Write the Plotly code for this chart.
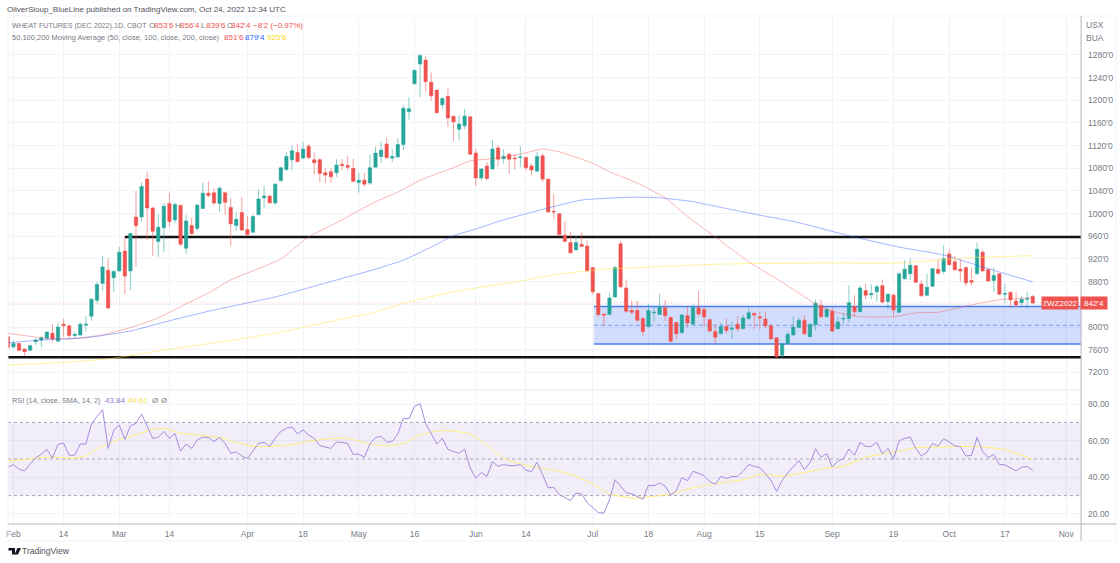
import plotly.graph_objects as go

# trading day index, 0 = 1 Feb 2022, 183 = 24 Oct 2022
days = list(range(-1, 184))

opens = [783, 765, 771, 761, 759, 774, 777, 780, 789, 775, 805, 802, 785, 786, 803, 819, 847, 877, 900, 887,
         899, 934, 899, 994, 994, 1061, 1010, 951, 975, 1018, 989, 1015, 939, 979, 974, 1009, 1036, 1037, 1018, 1037,
         1011, 979, 1002, 972, 967, 998, 1028, 1031, 1019, 1058, 1078, 1095, 1108, 1098, 1119, 1095, 1095, 1072, 1074, 1072,
         1087, 1085, 1080, 1055, 1059, 1054, 1082, 1101, 1123, 1098, 1100, 1122, 1180, 1229, 1264, 1271, 1232, 1218, 1192, 1207,
         1172, 1149, 1155, 1171, 1107, 1063, 1084, 1079, 1116, 1097, 1105, 1098, 1099, 1099, 1084, 1075, 1102, 1061, 1004, 1000,
         962, 949, 936, 946, 943, 905, 859, 823, 822, 853, 947, 869, 829, 829, 815, 801, 825, 822, 834, 817,
         808, 790, 820, 805, 834, 831, 813, 792, 788, 801, 796, 805, 797, 815, 824, 818, 814, 802, 781, 750,
         771, 786, 799, 812, 783, 804, 838, 818, 828, 797, 814, 815, 836, 827, 864, 857, 862, 873, 845, 856,
         826, 885, 894, 908, 876, 856, 872, 902, 898, 929, 915, 902, 905, 882, 894, 932, 901, 882, 894, 858,
         861, 846, 843, 849, 853.75]
highs = [789, 777, 772, 762, 769, 780, 784, 792, 805, 808, 815, 804, 792, 808, 819, 851, 880, 926, 922, 901,
         941, 959, 966, 1040, 1055, 1074, 1012, 999, 1018, 1036, 1020, 1015, 998, 993, 1017, 1055, 1057, 1045, 1048, 1039,
         1027, 1003, 1029, 996, 998, 1042, 1050, 1033, 1054, 1083, 1109, 1120, 1123, 1126, 1123, 1108, 1098, 1080, 1080, 1096,
         1096, 1102, 1097, 1072, 1072, 1104, 1118, 1128, 1134, 1114, 1133, 1191, 1205, 1254, 1281, 1278, 1249, 1218, 1206, 1221,
         1172, 1174, 1185, 1172, 1115, 1080, 1091, 1130, 1121, 1114, 1108, 1105, 1119, 1101, 1088, 1109, 1106, 1061, 1035, 1000,
         987, 968, 961, 967, 953, 905, 859, 823, 861, 908, 952, 884, 847, 846, 818, 841, 836, 858, 848, 818,
         809, 823, 837, 840, 864, 835, 814, 804, 807, 815, 809, 819, 821, 834, 825, 827, 827, 805, 782, 772,
         792, 819, 817, 821, 805, 848, 848, 836, 835, 818, 824, 873, 856, 873, 877, 875, 875, 884, 859, 859,
         896, 918, 921, 910, 883, 894, 904, 919, 945, 938, 925, 919, 906, 904, 949, 936, 904, 905, 895, 876,
         864, 862, 855, 862, 856.5]
lows = [764, 762, 757, 749, 758, 768, 764, 778, 773, 774, 783, 780, 779, 784, 792, 811, 841, 865, 832, 862,
        898, 858, 865, 906, 986, 953, 926, 923, 932, 977, 983, 943, 929, 962, 970, 1008, 1029, 1015, 1003, 998,
        943, 970, 970, 961, 967, 998, 1009, 1019, 1015, 1057, 1076, 1077, 1090, 1096, 1096, 1069, 1055, 1054, 1054, 1065,
        1077, 1077, 1055, 1037, 1048, 1051, 1082, 1090, 1096, 1091, 1099, 1112, 1166, 1228, 1205, 1215, 1199, 1177, 1185, 1153,
        1128, 1130, 1149, 1104, 1049, 1059, 1059, 1078, 1083, 1088, 1070, 1078, 1082, 1077, 1068, 1074, 1056, 1002, 990, 962,
        951, 929, 936, 942, 896, 857, 818, 801, 821, 852, 869, 825, 822, 809, 784, 799, 808, 821, 811, 772,
        778, 789, 799, 805, 818, 801, 792, 771, 788, 788, 779, 792, 797, 812, 797, 795, 798, 778, 744, 744,
        770, 785, 799, 786, 782, 794, 817, 817, 791, 796, 804, 808, 818, 826, 849, 849, 845, 842, 831, 818,
        825, 884, 883, 877, 854, 855, 871, 891, 893, 909, 899, 880, 872, 873, 892, 897, 880, 862, 856, 842,
        834, 835, 837, 833, 839.75]
closes = [764, 771, 759, 756.5, 767, 777, 781, 791, 779, 800, 802, 785, 787, 805, 805, 849, 875, 906, 833.5, 898,
          932, 890, 965, 979, 1048, 1010, 969, 976, 1013, 986, 1016, 946, 987, 965, 1015, 1036, 1032, 1019, 1045, 1020,
          982, 990, 971, 963, 995, 1026, 1031, 1019, 1052, 1081, 1101, 1111, 1092, 1114, 1099, 1090, 1071, 1068, 1065, 1086,
          1085, 1082, 1057, 1059, 1052, 1081, 1107, 1112, 1099, 1101, 1122, 1186, 1185, 1253, 1279, 1233, 1208, 1178, 1203, 1169,
          1162, 1158, 1172, 1105, 1063, 1079, 1062, 1114, 1096, 1101, 1096, 1097, 1100, 1081, 1077, 1101, 1061, 1003, 1003, 963,
          951, 931, 949, 942, 899, 862, 822, 821, 851, 905, 871, 828, 826, 812, 792, 829, 826, 835, 820, 775,
          788, 821, 807, 835, 823, 818, 793, 782, 801, 794, 798, 797, 816, 825, 821, 816, 802, 779, 748, 770,
          787, 800, 812, 788, 805, 842, 818, 831, 793, 809, 815, 843, 827, 869, 856, 859, 871, 844, 858, 830,
          894, 902, 909, 879, 855, 870, 903, 895, 921, 910, 901, 899, 878, 879, 937, 899, 881, 891, 858, 859,
          848, 839, 849, 850, 842.5]

rsi = [45.5, 47, 44.4, 43.5, 47.2, 50.6, 52.7, 55.2, 50.6, 58, 58.7, 52, 52.1, 58.2, 58.2, 69, 73.2, 76.9, 55.8, 65.5,
       68.6, 60.7, 68, 69.5, 74.5, 67.7, 61.3, 61.8, 65.1, 61.3, 63.9, 54.3, 58.2, 55.8, 60.4, 62, 61.8, 59.5, 61.8, 58.5,
       53.2, 53.9, 51.7, 50.3, 54.3, 58.5, 59.1, 56.9, 61.3, 65, 66.8, 67.5, 63.7, 65.9, 63.1, 61.3, 57.3, 56.5, 55.8, 59.3,
       59.1, 58.4, 52.5, 52.7, 51, 58.2, 61.8, 62.4, 59.3, 59.5, 63.7, 72.3, 71.9, 78.7, 80.2, 69.5, 64, 58.2, 61.3, 55.2,
       54.1, 53.2, 55.4, 45.1, 39.6, 42.6, 40.5, 48.6, 46, 47, 46.4, 46.4, 47, 43.9, 43.1, 48.3, 41.5, 34.3, 34.5, 30.5,
       29, 27.3, 31.4, 30.8, 26.2, 23.3, 20.7, 20.5, 27.7, 38.7, 35, 31.6, 31, 29.7, 28, 35.6, 35.4, 36.9, 35.2, 30.3,
       32.7, 39.8, 38.2, 43.3, 42, 40.9, 37.6, 36.3, 40.5, 39.4, 40.4, 40.4, 43.3, 47, 46, 45.3, 42, 38.3, 32.3, 38.3,
       42.4, 46, 49.2, 44.2, 48, 55.6, 51, 53, 45.7, 48.8, 50.3, 55.4, 52.1, 59.1, 56.9, 56.9, 59.1, 52.8, 55.8, 49.9,
       60, 61.3, 62, 55.8, 51.6, 53.8, 58.5, 57.1, 61.1, 59.3, 57.2, 56.7, 51.6, 52, 61.8, 54.1, 50.8, 52.5, 47, 46.8,
       45, 43.5, 45.5, 45.9, 43.84]

rsi_sma_days = [-1, 2, 4, 7, 11, 13, 15, 17, 19, 22, 25, 27, 30, 34, 37, 40, 43, 46, 49, 52, 55, 58, 60, 65, 68, 70, 73, 77,
                82, 85, 88, 92, 99, 103, 107, 111, 114, 118, 122, 126, 131, 134, 138, 142, 146, 149, 153, 156, 159, 162,
                166, 172, 178, 183]
rsi_sma = [49.2, 49.5, 50.6, 51, 50.5, 51.7, 55.4, 58.4, 60.7, 63.1, 66.2, 66.8, 64.2, 62.9, 61.7, 59.1, 56.9, 56.9, 57.4,
           59.1, 60.6, 61.3, 61.3, 57.6, 57.2, 58.5, 63.1, 65.7, 63.7, 57.6, 50.3, 46.6, 42.6, 38, 31, 28.6, 29.2, 31, 34.3,
           36.5, 38.7, 41.6, 40.6, 42.6, 45.1, 46, 51, 52.7, 54.3, 56.2, 56.5, 56.9, 55.2, 49.61]

ma50_days = [-1, 5, 10, 16, 21, 26, 31, 35, 39, 43, 48, 53, 58, 65, 69, 73, 79, 82, 87, 91, 95, 98, 104, 107, 112, 117, 120,
             124, 126, 132, 138, 144, 147, 152, 158, 162, 166, 171, 177, 183]
ma50 = [789, 781, 779, 786, 799, 816, 841, 860, 883, 899, 920, 959, 984, 1021, 1038, 1059, 1081, 1093, 1098, 1105, 1114,
        1109, 1089, 1074, 1054, 1028, 1003, 973, 959, 915, 879, 841, 828, 818, 818, 825, 826, 837, 848, 851.75]
ma100_days = [-1, 5, 13, 21, 28, 36, 47, 58, 65, 70, 75, 79, 83, 88, 96, 102, 111, 116, 122, 131, 141, 150, 159, 167, 174, 183]
ma100 = [772, 777, 781, 793, 811, 830, 853, 883, 902, 918, 941, 961, 973, 989, 1010, 1024, 1029, 1028, 1021, 1003, 984,
         961, 941, 927, 906, 879.5]
ma200_days = [-1, 10, 18, 26, 36, 47, 58, 65, 70, 79, 91, 97, 106, 115, 127, 145, 159, 171, 183]
ma200 = [733, 738, 745, 758, 772, 789, 812, 826, 842, 862, 881, 892, 902, 906, 911, 913, 913, 922, 925.75]

# axis labels
time_ticks = [0, 9, 19, 28, 42, 52, 62, 72, 83, 92, 104, 114, 124, 134, 147, 158, 168, 178, 189]
time_labels = ["Feb", "14", "Mar", "14", "Apr", "18", "May", "16", "Jun", "14", "Jul", "18", "Aug", "15", "Sep", "19",
               "Oct", "17", "Nov"]
price_ticks = list(range(720, 1281, 40))
# the 840 label sits under the last price tag
price_labels = ["" if p == 840 else "%d'0" % p for p in price_ticks]
rsi_ticks = [20, 40, 60, 80]
rsi_labels = ["20.00", "40.00", "60.00", "80.00"]

# levels drawn on the chart
resistance = 959
support = 746.5
box_top, box_mid, box_bottom = 836, 803, 770
box_start = 104.2
last_price = 842.5

UP = "#26a69a"
DOWN = "#ef5350"
GRID = "#f0f3fa"
TEXT = "#787b86"
BLUE = "#4a7df0"
FONT = "Liberation Sans"
W, H = 1120, 563


def px(x):
    return x / W


def py(y):
    return 1 - y / H


fig = go.Figure()

fig.add_trace(go.Candlestick(
    x=days, open=opens, high=highs, low=lows, close=closes,
    increasing=dict(line=dict(color="rgba(38,166,154,0.55)", width=1), fillcolor=UP),
    decreasing=dict(line=dict(color="rgba(239,83,80,0.55)", width=1), fillcolor=DOWN),
    whiskerwidth=0, showlegend=False, hoverinfo="skip",
))
for xs, ys, col in [(ma50_days, ma50, "rgba(239,83,80,0.42)"),
                    (ma100_days, ma100, "rgba(41,82,255,0.42)"),
                    (ma200_days, ma200, "rgba(255,232,80,0.55)")]:
    fig.add_trace(go.Scatter(x=xs, y=ys, mode="lines", line=dict(color=col, width=1, shape="spline", smoothing=0.5),
                             showlegend=False, hoverinfo="skip"))

fig.add_trace(go.Scatter(x=rsi_sma_days, y=rsi_sma, mode="lines", xaxis="x2", yaxis="y2",
                         line=dict(color="#ffee7a", width=1, shape="spline", smoothing=0.5),
                         showlegend=False, hoverinfo="skip"))
fig.add_trace(go.Scatter(x=days, y=rsi, mode="lines", xaxis="x2", yaxis="y2",
                         line=dict(color="#a78bdc", width=1),
                         showlegend=False, hoverinfo="skip"))

x_range = [-0.98, 191.67]
fig.update_layout(
    width=W, height=H, autosize=False,
    margin=dict(l=0, r=0, t=0, b=0),
    paper_bgcolor="white", plot_bgcolor="white",
    font=dict(family=FONT, size=8, color=TEXT),
    showlegend=False, boxgap=0.15,
    xaxis=dict(domain=[px(6), px(1081)], range=x_range, rangeslider=dict(visible=False),
               tickvals=time_ticks, showticklabels=False, showgrid=True, gridcolor=GRID, gridwidth=1,
               zeroline=False, anchor="y"),
    yaxis=dict(domain=[py(389), py(17)], range=[690.6, 1347], side="right", tickvals=price_ticks,
               ticktext=price_labels, showgrid=True, gridcolor=GRID, zeroline=False, anchor="x",
               ticklen=0, ticklabelstandoff=6, tickfont=dict(size=8.5, color=TEXT)),
    xaxis2=dict(domain=[px(6), px(1081)], range=x_range, tickvals=time_ticks, ticktext=time_labels,
                showgrid=True, gridcolor=GRID, zeroline=False, anchor="y2", ticklen=0,
                tickfont=dict(size=8.5, color=TEXT), ticklabelstandoff=3),
    yaxis2=dict(domain=[py(524), py(390)], range=[14.5, 87.7], side="right", tickvals=rsi_ticks,
                ticktext=rsi_labels, showgrid=True, gridcolor=GRID, zeroline=False, anchor="x2",
                ticklen=0, ticklabelstandoff=6, tickfont=dict(size=8.5, color=TEXT)),
)

shapes = [
    # drawings
    dict(type="rect", xref="x", yref="y", x0=box_start, x1=x_range[1], y0=box_bottom, y1=box_top,
         fillcolor="rgba(60,110,245,0.23)", line=dict(width=0), layer="between"),
    dict(type="line", xref="x", yref="y", x0=box_start, x1=x_range[1], y0=box_top, y1=box_top,
         line=dict(color=BLUE, width=1.5), layer="between"),
    dict(type="line", xref="x", yref="y", x0=box_start, x1=x_range[1], y0=box_bottom, y1=box_bottom,
         line=dict(color=BLUE, width=1.5), layer="between"),
    dict(type="line", xref="x", yref="y", x0=box_start, x1=x_range[1], y0=box_mid, y1=box_mid,
         line=dict(color="#7e9ff0", width=1, dash="4px,3px"), layer="between"),
    dict(type="line", xref="x", yref="y", x0=20, x1=x_range[1], y0=resistance, y1=resistance,
         line=dict(color="#111111", width=2.5), layer="between"),
    dict(type="line", xref="x", yref="y", x0=x_range[0], x1=x_range[1], y0=support, y1=support,
         line=dict(color="#111111", width=2.5), layer="between"),
    dict(type="line", xref="x", yref="y", x0=x_range[0], x1=x_range[1], y0=last_price, y1=last_price,
         line=dict(color="rgba(239,83,80,0.35)", width=1, dash="1px,2px"), layer="between"),
    # rsi band
    dict(type="rect", xref="x2", yref="y2", x0=x_range[0], x1=x_range[1], y0=30, y1=70,
         fillcolor="rgba(126,87,194,0.1)", line=dict(width=0), layer="between"),
]
for level in [30, 50, 70]:
    shapes.append(dict(type="line", xref="x2", yref="y2", x0=x_range[0], x1=x_range[1], y0=level, y1=level,
                       line=dict(color="#a3a6af", width=1, dash="3px,3px"), layer="between"))
# frame and pane separators
for x0, y0, x1, y1, col, lw in [
    (6, 16, 1116, 16, GRID, 1), (6, 16, 6, 541, GRID, 1), (1116, 16, 1116, 541, GRID, 1), (6, 541, 1116, 541, GRID, 1),
    (6, 390, 1081, 390, "#e6e8ef", 1), (6, 524, 1116, 524, "#b2b5be", 1), (1081, 16, 1081, 541, "#b2b5be", 1),
]:
    shapes.append(dict(type="line", xref="paper", yref="paper", x0=px(x0), x1=px(x1), y0=py(y0), y1=py(y1),
                       line=dict(color=col, width=lw)))
# TradingView mark
shapes.append(dict(type="path", xref="paper", yref="paper", fillcolor="#131722", line=dict(width=0),
                   path="M %f %f L %f %f L %f %f L %f %f L %f %f L %f %f Z" % (
                       px(6.5), py(548), px(13), py(548), px(13), py(554.5), px(10), py(554.5), px(10), py(550.5), px(6.5), py(550.5))))
shapes.append(dict(type="path", xref="paper", yref="paper", fillcolor="#131722", line=dict(width=0),
                   path="M %f %f L %f %f L %f %f L %f %f Z" % (
                       px(15.5), py(548), px(19), py(548), px(16), py(554.5), px(12.5), py(554.5))))
fig.update_layout(shapes=shapes)


def note(x, y, text, size=8, color=TEXT, **kw):
    # annotations carry about 2px of their own padding
    fig.add_annotation(xref="paper", yref="paper", x=px(x - 2), y=py(y), text=text, showarrow=False, xanchor="left",
                       yanchor="middle", align="left", font=dict(size=size, color=color, family=FONT),
                       borderpad=0, **kw)


note(6, 9, "OliverSloup_BlueLine published on TradingView.com, Oct 24, 2022 12:34 UTC", size=8, color="#50535e")

note(11, 26, "WHEAT FUTURES (DEC 2022),", size=7.1)
note(113, 26, "1D,", size=7.2)
note(126, 26, "CBOT", size=7)
for x, letter in [(148, "O"), (174, "H"), (200, "L"), (226, "C")]:
    note(x, 26, letter, size=8)
for x, value in [(153, "853'6"), (179, "856'4"), (205, "839'6"), (230, "842'4"), (252, "−8'2 (−0.97%)")]:
    note(x, 26, value, size=8, color=DOWN)

note(11, 37, "50,100,200 Moving Average (50, close, 100, close, 200, close)", size=7.5)
for x, value, col in [(223, "851'6", DOWN), (244, "879'4", "#2962ff"), (266, "925'6", "#f5d90a")]:
    note(x, 37, value, size=8, color=col)

note(11, 400, "RSI (14, close, SMA, 14, 2)", size=7.3)
for x, value, col in [(104, "43.84", "#9575cd"), (127, "49.61", "#f5e050"), (151, "Ø", TEXT), (160, "Ø", TEXT)]:
    note(x, 400, value, size=8, color=col)

note(1087, 25, "USX", size=8.5)
note(1087, 38, "BUA", size=8.5)
note(21, 551, "TradingView", size=8.5, color="#50535e")

fig.add_annotation(xref="paper", yref="y", x=px(1060), y=last_price, text="ZWZ2022", showarrow=False, xanchor="center",
                   font=dict(size=8, color="white", family=FONT), bgcolor=DOWN, borderpad=1.5, width=33)
fig.add_annotation(xref="paper", yref="y", x=px(1094), y=last_price, text="842'4", showarrow=False, xanchor="center",
                   font=dict(size=8, color="white", family=FONT), bgcolor=DOWN, borderpad=1.5, width=23)

fig.write_html("out.html", post_script="document.body.style.margin='0';", config=dict(displayModeBar=False))
